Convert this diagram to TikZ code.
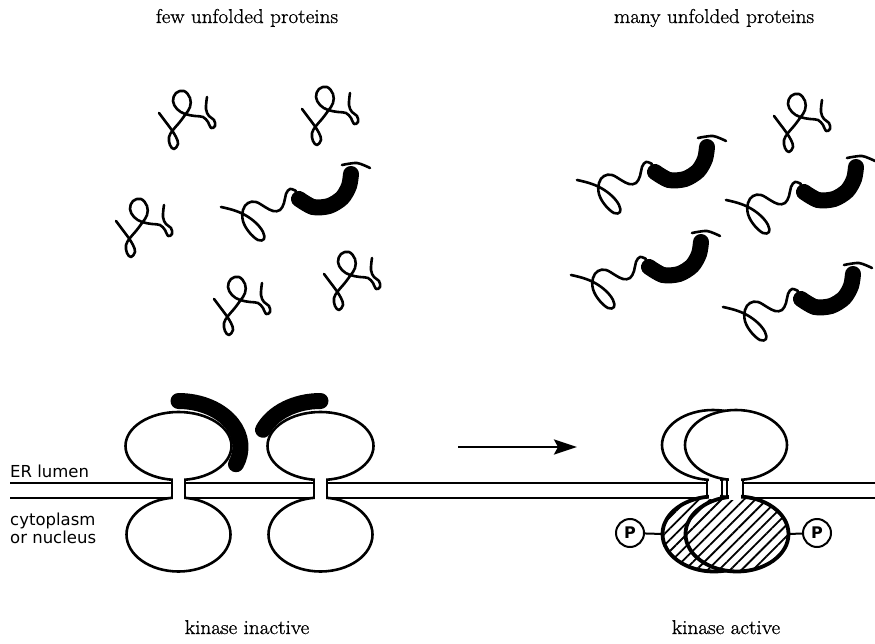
\documentclass[tikz,border=0pt]{standalone}
\usepackage{fontspec}
\newfontfamily\labelfont{DejaVu Sans}
\newfontfamily\captionfont[FakeStretch=1.06,FakeBold=1]{Latin Modern Roman}
\usetikzlibrary{arrows.meta,patterns.meta}
\tikzset{
	strand/.style={
		line width=2.6pt,
		line cap=round,
		line join=round,
	},
	bip/.style={
		line width=16pt,
		line cap=round,
	},
	lobe/.style={
		draw,
		fill=white,
		line width=2.6pt,
	},
	hatched lobe/.style={
		draw,
		line width=3.8pt,
		preaction={fill=white},
		pattern={Lines[angle=45,distance=8pt,line width=1.8pt]},
	},
	membrane/.style={
		line width=2.6pt,
	},
	caption/.style={
		anchor=base,
		font=\captionfont\fontsize{20}{24}\selectfont,
	},
	compartment/.style={
		anchor=base west,
		inner sep=0pt,
		font=\labelfont\fontsize{16.5}{20}\selectfont,
	},
	phospho/.style={
		circle,
		draw,
		line width=2pt,
		inner sep=0pt,
		minimum size=28pt,
		font=\labelfont\bfseries\fontsize{16}{16}\selectfont,
	},
	tether/.style={
		line width=2pt,
	},
	signal/.style={
		-{Stealth[length=23pt,width=15pt,inset=4pt]},
		line width=2.6pt,
	},
	tangle/.pic={
		\draw[strand] plot[smooth,tension=0.65] coordinates {
			(4,28) (10,36) (16,44) (21,52) (23,59) (19,64) (15,60) (14,52) (18,45) (24,38)
			(30,30) (35,22) (35,13) (29,6) (21,8) (18,16) (22,24) (30,29) (40,31) (48,32)
			(53,37) (56,43) (60,41) (59,35) (54,31) (51,24) (52,12)};
	},
	bip bound/.pic={
		\draw[strand] plot[smooth,tension=0.65] coordinates {
			(6,47) (18,50) (30,55) (41,63) (48,72) (49,79) (43,80) (34,72) (28,61) (28,50)
			(33,43) (41,42) (50,47) (58,51) (65,50) (69,43) (71,34) (75,29) (81,31)};
		\draw[bip] plot[smooth] coordinates {(84,39) (98,47) (114,46) (127,38) (134,26) (136,14)};
		\draw[strand] plot[smooth] coordinates {(127,5) (142,3) (155,8)};
	},
	receptor/.pic={
		\path[lobe] (0,-44.5) ellipse[x radius=53,y radius=34];
		\path[lobe] (0,44) ellipse[x radius=52,y radius=37];
		\fill[white] (-5.5,-15) rectangle (5.5,11);
		\draw[membrane] (-6.5,-10.8) -- (-6.5,7.6) (6.5,-10.8) -- (6.5,7.6);
	},
}

\begin{document}
\begin{tikzpicture}[x=1pt,y=-1pt]
\useasboundingbox (0,0) rectangle (875,644);

\node[caption] (fewlabel) at (247,23) {few unfolded proteins};
\node[caption] (manylabel) at (714,23) {many unfolded proteins};
\node[caption] (offlabel) at (247,634) {kinase inactive};
\node[caption] (onlabel) at (726,634) {kinase active};

\node[compartment] (lumen) at (10,477) {ER lumen};
\node[compartment] (cyto) at (10,525) {cytoplasm};
\node[compartment] (nucleus) at (10,543) {or nucleus};

\pic at (155,85) {tangle};
\pic at (298,81) {tangle};
\pic at (112,193) {tangle};
\pic at (210,271) {tangle};
\pic at (320,246) {tangle};
\pic at (770,88) {tangle};

\pic at (215,160) {bip bound};
\pic at (571,133) {bip bound};
\pic at (720,153) {bip bound};
\pic at (565,228) {bip bound};
\pic at (717,260) {bip bound};

\draw[membrane]
  (10,483) -- (172,483) (10,498) -- (172,498)
  (185,483) -- (314,483) (185,498) -- (314,498)
  (327,483) -- (707,483) (327,498) -- (707,498)
  (743,483) -- (875,483) (743,498) -- (875,498);

\pic at (178.5,490.5) {receptor};
\pic at (320.5,490.5) {receptor};

\draw[bip] (178.5,447) ++(-90:62 and 46) arc[start angle=-90,end angle=22,x radius=62,y radius=46];
\draw[bip] (320.5,447) ++(202:62 and 46) arc[start angle=202,end angle=270,x radius=62,y radius=46];

\coordinate (before) at (458,447);
\coordinate (after) at (577,447);
\draw[signal] (before) -- (after);

\path[lobe] (713,445) ellipse[x radius=51,y radius=35];
\path[hatched lobe] (714,534) ellipse[x radius=51.5,y radius=37.5];
\fill[white] (709,470) rectangle (720,499);
\path[lobe] (736,445) ellipse[x radius=51,y radius=35];
\path[hatched lobe] (737,534) ellipse[x radius=51.5,y radius=37.5];
\fill[white] (729,474) rectangle (741,500);
\draw[membrane]
  (707,479.8) -- (707,497) (722,479.4) -- (722,497.5)
  (727,479.4) -- (727,497.2) (743,479.7) -- (743,497.2);

\node[phospho] (pleft) at (630,533) {P};
\coordinate (backrim) at (662.5,534);
\draw[tether] (pleft) -- (backrim);
\node[phospho] (pright) at (817,533) {P};
\coordinate (frontrim) at (788.5,534);
\draw[tether] (pright) -- (frontrim);

\end{tikzpicture}
\end{document}
